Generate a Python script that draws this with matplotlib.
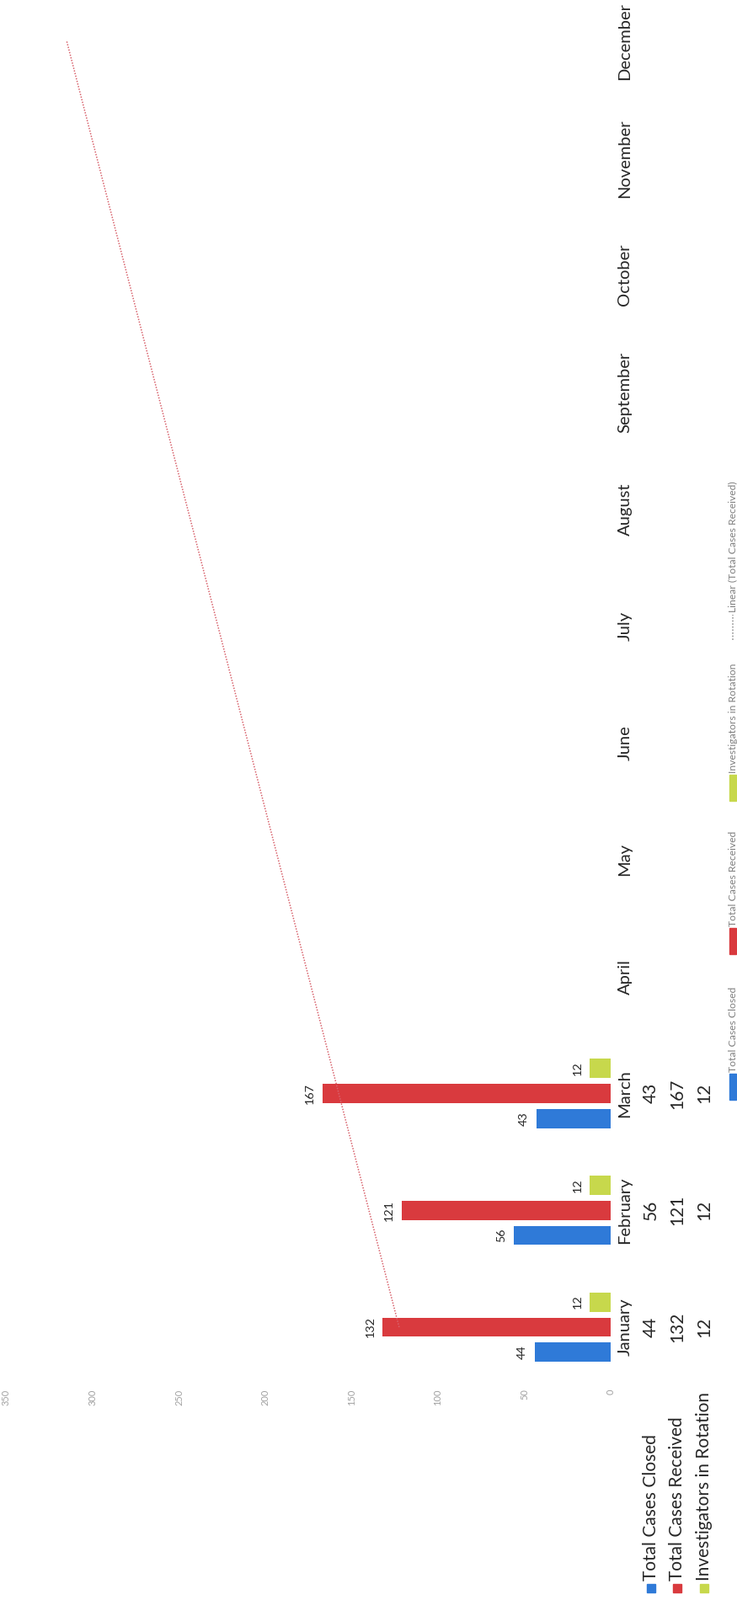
import numpy as np
import matplotlib.pyplot as plt
from matplotlib.patches import Rectangle
from matplotlib.lines import Line2D
from matplotlib.transforms import blended_transform_factory

months = ['January', 'February', 'March', 'April', 'May', 'June',
          'July', 'August', 'September', 'October', 'November', 'December']
closed = [44, 56, 43]
received = [132, 121, 167]
investigators = [12, 12, 12]
series_names = ['Total Cases Closed', 'Total Cases Received', 'Investigators in Rotation']
trend_name = 'Linear (Total Cases Received)'
value_ticks = [0, 50, 100, 150, 200, 250, 300, 350]

blue = '#2F7AD8'
red = '#D93A3E'
green = '#C7D84C'
trend_col = '#D8626C'
dark = '#262626'

plt.rcParams['font.family'] = ['Lato', 'DejaVu Sans']

W, H = 875, 1900
fig = plt.figure(figsize=(W / 100, H / 100), dpi=100)
renderer = fig.canvas.get_renderer()


def fx(x):
    return x / W


def fy(y):
    return 1 - y / H


def fit_size(s, target, size=10):
    # font size that makes the string `target` pixels long
    t = fig.text(0, 0, s, fontsize=size)
    w = t.get_window_extent(renderer).width
    t.remove()
    return size * target / w


table_fs = fit_size('Total Cases Closed', 174)
month_fs = min(table_fs, fit_size('December', 92))
legend_fs = fit_size('Total Cases Closed', 101)
label_fs = fit_size('167', 25)
tick_fs = fit_size('350', 19)

# the chart is turned a quarter turn: months run bottom -> top, values grow to the left
jan_px, dec_px = 1576, 49
step = (jan_px - dec_px) / 11
ax_bot = jan_px + step / 2
ax_top = dec_px - step / 2
x0_px, x350_px = 725, 7.5
ax = fig.add_axes([fx(x350_px), fy(ax_bot), (x0_px - x350_px) / W, (ax_bot - ax_top) / H])

y = np.arange(len(months))
n = len(closed)
h = 0.165
off = 0.215
ax.barh(y[:n] - off, closed, height=h, color=blue)
ax.barh(y[:n], received, height=h, color=red)
ax.barh(y[:n] + off, investigators, height=h, color=green)

# linear trendline on received cases, extended over the year
coef = np.polyfit(y[:n], received, 1)
ax.plot(np.polyval(coef, y), y, ls=(0, (1, 1.1)), color=trend_col, lw=1.1)

for vals, dy in [(closed, -off), (received, 0), (investigators, off)]:
    for i, v in enumerate(vals):
        ax.annotate(str(v), xy=(v, y[i] + dy), xytext=(-6.5, 0), textcoords='offset points',
                    rotation=90, ha='right', va='center', fontsize=label_fs, color=dark)

ax.set_xlim(350, 0)
ax.set_ylim(-0.5, 11.5)
ax.set_xticks(value_ticks)
ax.set_xticklabels([str(t) for t in value_ticks], rotation=90, fontsize=tick_fs, color='#A0A0A0')
ax.tick_params(axis='x', length=0, pad=3)
ax.set_yticks([])
for s in ax.spines.values():
    s.set_visible(False)

# data table: month header column and one column per series
tr = blended_transform_factory(fig.transFigure, ax.transData)
for i, m in enumerate(months):
    ax.text(fx(742), y[i], m, transform=tr, rotation=90, ha='center', va='center',
            fontsize=month_fs, color=dark, clip_on=False)

col_x = [773, 804, 836]
for cx, vals in zip(col_x, [closed, received, investigators]):
    for i, v in enumerate(vals):
        ax.text(fx(cx), y[i], str(v), transform=tr, rotation=90, ha='center', va='center',
                fontsize=table_fs, color=dark, clip_on=False)

for cx, name, c in zip(col_x, series_names, [blue, red, green]):
    fig.text(fx(cx), fy(1877), name, rotation=90, ha='center', va='bottom',
             fontsize=table_fs, color=dark)
    fig.add_artist(Rectangle((fx(cx - 5), fy(1891)), 10 / W, 10 / H,
                             transform=fig.transFigure, color=c))

# small legend along the right edge
lx = 870
leg_text_bottom = [1273, 1100, 918, 727]
leg_cols = [blue, red, green, trend_col]
for tb, name, c in zip(leg_text_bottom, series_names + [trend_name], leg_cols):
    if name == trend_name:
        fig.add_artist(Line2D([fx(lx), fx(lx)], [fy(tb + 33), fy(tb + 3)],
                              transform=fig.transFigure, color='#A8A8A8',
                              ls=(0, (1, 1)), lw=1.3))
    else:
        fig.add_artist(Rectangle((fx(lx - 4), fy(tb + 33)), 8 / W, 31 / H,
                                 transform=fig.transFigure, color=c))
    fig.text(fx(lx), fy(tb), name, rotation=90, ha='center', va='bottom',
             fontsize=legend_fs, color='#7F7F7F')

fig.savefig('out.png', dpi=100, facecolor='white')
